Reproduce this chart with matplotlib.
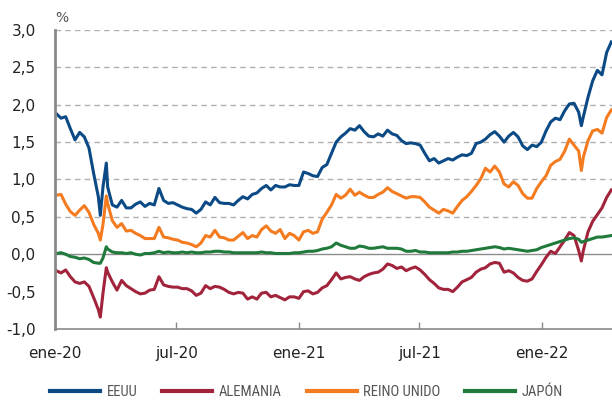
import matplotlib
matplotlib.use("Agg")
import matplotlib.pyplot as plt
from matplotlib import font_manager
import pandas as pd

# --- Data (10-year yields, %) ---
# weekly Fridays plus a few extra days where the spikes happen
weekly = pd.date_range("2020-01-03", periods=120, freq="7D")
extra_days = pd.to_datetime(["2020-03-09", "2020-03-18", "2022-03-01"])
dates = weekly.append(extra_days).sort_values()

eeuu = [1.88, 1.82, 1.84, 1.68, 1.53, 1.63, 1.57, 1.42, 1.08, 0.77,
        0.52, 0.90, 1.22,
        0.90, 0.66, 0.63, 0.72, 0.62, 0.62, 0.67, 0.70, 0.64, 0.68,
        0.66, 0.88, 0.72, 0.68, 0.69, 0.66, 0.63, 0.61, 0.60, 0.55,
        0.60, 0.70, 0.66, 0.76, 0.69, 0.68, 0.68, 0.66, 0.72, 0.77,
        0.74, 0.80, 0.82, 0.88, 0.92, 0.86, 0.92, 0.90, 0.90, 0.93,
        0.92, 0.92, 1.10, 1.08, 1.05, 1.04, 1.16, 1.20, 1.35, 1.50,
        1.57, 1.62, 1.68, 1.66, 1.72, 1.64, 1.58, 1.57, 1.61, 1.58,
        1.66, 1.61, 1.59, 1.52, 1.48, 1.49, 1.48, 1.46, 1.35, 1.25,
        1.28, 1.22, 1.25, 1.28, 1.26, 1.30, 1.33, 1.32, 1.35, 1.48,
        1.50, 1.54, 1.60, 1.64, 1.58, 1.50, 1.58, 1.63, 1.57, 1.45,
        1.40, 1.46, 1.44, 1.50, 1.65, 1.77, 1.82, 1.80, 1.92, 2.01,
        2.02, 1.90, 1.72, 1.84, 2.10, 2.32, 2.46, 2.40, 2.70, 2.84]

alemania = [-0.22, -0.25, -0.21, -0.30, -0.37, -0.39, -0.37, -0.43, -0.58, -0.74,
            -0.84, -0.52, -0.18,
            -0.24, -0.37, -0.48, -0.35, -0.42, -0.46, -0.50, -0.53, -0.52, -0.48,
            -0.47, -0.30, -0.41, -0.43, -0.44, -0.44, -0.46, -0.46, -0.49, -0.55,
            -0.52, -0.42, -0.46, -0.43, -0.44, -0.47, -0.51, -0.53, -0.51, -0.52,
            -0.60, -0.57, -0.60, -0.52, -0.51, -0.57, -0.55, -0.58, -0.61, -0.57,
            -0.57, -0.59, -0.50, -0.49, -0.53, -0.51, -0.45, -0.42, -0.34, -0.25,
            -0.33, -0.31, -0.30, -0.33, -0.35, -0.30, -0.27, -0.25, -0.24, -0.20,
            -0.13, -0.15, -0.19, -0.17, -0.22, -0.19, -0.17, -0.21, -0.27, -0.34,
            -0.39, -0.45, -0.47, -0.47, -0.50, -0.44, -0.37, -0.34, -0.31, -0.24,
            -0.20, -0.18, -0.13, -0.11, -0.12, -0.24, -0.22, -0.25, -0.31, -0.35,
            -0.36, -0.33, -0.23, -0.14, -0.04, 0.04, 0.01, 0.10, 0.19, 0.29,
            0.25, 0.05, -0.09, 0.05, 0.30, 0.44, 0.53, 0.62, 0.76, 0.86]

reino_unido = [0.79, 0.80, 0.67, 0.57, 0.52, 0.59, 0.65, 0.56, 0.40, 0.28,
               0.19, 0.40, 0.78,
               0.68, 0.45, 0.36, 0.41, 0.31, 0.32, 0.28, 0.25, 0.21, 0.21,
               0.21, 0.36, 0.23, 0.22, 0.20, 0.19, 0.16, 0.15, 0.13, 0.10,
               0.15, 0.25, 0.23, 0.32, 0.23, 0.22, 0.19, 0.19, 0.24, 0.29,
               0.21, 0.25, 0.23, 0.33, 0.38, 0.31, 0.28, 0.33, 0.21, 0.28,
               0.25, 0.19, 0.30, 0.32, 0.28, 0.30, 0.47, 0.56, 0.66, 0.80,
               0.75, 0.79, 0.87, 0.79, 0.83, 0.79, 0.76, 0.76, 0.80, 0.83,
               0.89, 0.84, 0.81, 0.78, 0.75, 0.77, 0.77, 0.76, 0.70, 0.63,
               0.59, 0.55, 0.60, 0.58, 0.55, 0.64, 0.72, 0.77, 0.84, 0.92,
               1.01, 1.15, 1.10, 1.18, 1.10, 0.94, 0.90, 0.97, 0.92, 0.81,
               0.75, 0.75, 0.88, 0.97, 1.05, 1.19, 1.24, 1.27, 1.38, 1.54,
               1.46, 1.38, 1.12, 1.30, 1.52, 1.65, 1.67, 1.62, 1.83, 1.93]

japon = [0.01, 0.02, 0.00, -0.03, -0.04, -0.06, -0.05, -0.07, -0.11, -0.12,
         -0.12, -0.05, 0.10,
         0.07, 0.03, 0.02, 0.02, 0.01, 0.02, 0.00, -0.01, 0.01, 0.01,
         0.02, 0.04, 0.02, 0.03, 0.02, 0.02, 0.03, 0.02, 0.03, 0.02,
         0.02, 0.03, 0.03, 0.04, 0.04, 0.03, 0.03, 0.02, 0.02, 0.02,
         0.02, 0.02, 0.02, 0.03, 0.02, 0.02, 0.01, 0.01, 0.01, 0.01,
         0.02, 0.02, 0.03, 0.04, 0.04, 0.05, 0.07, 0.08, 0.10, 0.15,
         0.12, 0.10, 0.08, 0.08, 0.11, 0.10, 0.08, 0.08, 0.09, 0.10,
         0.08, 0.08, 0.08, 0.07, 0.04, 0.04, 0.05, 0.03, 0.03, 0.02,
         0.02, 0.02, 0.02, 0.02, 0.03, 0.03, 0.04, 0.04, 0.05, 0.06,
         0.07, 0.08, 0.09, 0.10, 0.09, 0.07, 0.08, 0.07, 0.06, 0.05,
         0.04, 0.05, 0.06, 0.09, 0.11, 0.13, 0.15, 0.17, 0.19, 0.21,
         0.22, 0.20, 0.16, 0.17, 0.19, 0.21, 0.23, 0.23, 0.24, 0.25]

series_names = ["EEUU", "ALEMANIA", "REINO UNIDO", "JAPÓN"]
series_colors = ["#0c4a86", "#a2243c", "#f47b20", "#1f7a3b"]

tick_dates = pd.to_datetime(["2020-01-01", "2020-07-01", "2021-01-01",
                             "2021-07-01", "2022-01-01"])
tick_labels = ["ene-20", "jul-20", "ene-21", "jul-21", "ene-22"]
y_ticks = [-1.0, -0.5, 0.0, 0.5, 1.0, 1.5, 2.0, 2.5, 3.0]

# pick a condensed face for the legend if one is around
installed = {f.name for f in font_manager.fontManager.ttflist}
legend_font = "DejaVu Sans"
for cand in ["Liberation Sans Narrow", "DejaVu Sans Condensed", "Roboto Condensed"]:
    if cand in installed:
        legend_font = cand
        break
condensed = legend_font != "DejaVu Sans"

# --- Plot ---
fig = plt.figure(figsize=(6.12, 4.03), dpi=100)
ax = fig.add_axes([0.0899, 0.1836, 0.9101, 0.742])

for vals, name, color in zip([eeuu, alemania, reino_unido, japon],
                             series_names, series_colors):
    ax.plot(dates, vals, color=color, lw=2.2, label=name, solid_joinstyle="round")

for y in y_ticks[2:]:
    if y == 0.0:
        ax.axhline(y, color="#8c8c8c", lw=1.0, zorder=0)
    else:
        ax.axhline(y, color="#b0b0b0", lw=1.0, ls=(0, (4, 3)), zorder=0)

ax.set_ylim(-1.0, 3.0)
ax.set_xlim(pd.Timestamp("2020-01-01"), dates[-1] + pd.Timedelta(days=1))
ax.set_yticks(y_ticks)
ax.set_yticklabels([f"{v:.1f}".replace(".", ",") for v in y_ticks])
ax.set_xticks(tick_dates)
ax.set_xticklabels(tick_labels)

for side in ["top", "right"]:
    ax.spines[side].set_visible(False)
ax.spines["left"].set_color("#8a8a8a")
ax.spines["left"].set_linewidth(2.0)
ax.spines["bottom"].set_color("#8a8a8a")
ax.spines["bottom"].set_linewidth(1.2)

ax.tick_params(axis="y", length=0, pad=14, labelsize=11, labelcolor="#222222")
ax.tick_params(axis="x", direction="in", length=5, width=1, color="#8a8a8a",
               pad=12, labelsize=11, labelcolor="#222222")

fig.text(0.101, 0.955, "%", fontsize=10, color="#555555", ha="center", va="center")

leg_size = 10.5 if condensed else 9.0
leg = fig.legend(loc="center left", bbox_to_anchor=(0.082, 0.028), ncol=4,
                 frameon=False, borderaxespad=0, borderpad=0,
                 handlelength=50 / (leg_size * 100 / 72), handletextpad=0.45,
                 columnspacing=1.7,
                 prop={"family": [legend_font, "DejaVu Sans"], "size": leg_size},
                 labelcolor="#555555")
for line in leg.get_lines():
    line.set_linewidth(3)

fig.savefig("out.png", dpi=100)
